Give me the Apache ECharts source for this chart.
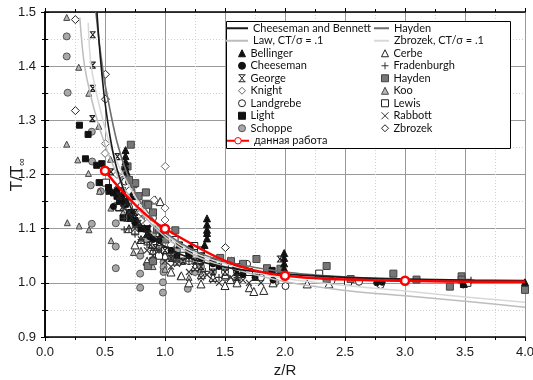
<!DOCTYPE html>
<html>
<head>
<meta charset="utf-8">
<script src="https://cdn.jsdelivr.net/npm/echarts@6/dist/echarts.min.js"></script>
<style>
  html, body { margin: 0; padding: 0; background: #fff; }
  #chart { width: 533px; height: 380px; }
</style>
</head>
<body>
<div id="chart"></div>
<script>
// Ground-effect thrust ratio T/T∞ against rotor height z/R

// Theory curves: [z/R, T/T∞]
const cheesemanBennett = [[0.433,1.5],[0.45,1.446],[0.47,1.395],[0.5,1.333],[0.55,1.26],[0.6,1.21],[0.7,1.146],[0.8,1.108],[0.9,1.084],[1.0,1.067],[1.25,1.042],[1.5,1.029],[1.75,1.021],[2.0,1.016],[2.5,1.010],[3.0,1.007],[3.5,1.005],[4.0,1.004]];
const haydenCurve = [[0.424,1.5],[0.45,1.447],[0.478,1.4],[0.5,1.367],[0.6,1.26],[0.7,1.192],[0.8,1.148],[1.0,1.094],[1.25,1.059],[1.5,1.040],[2.0,1.020],[2.5,1.011],[3.0,1.006],[3.5,1.003],[4.0,1.001]];
const lawCurve = [[0.29,1.49],[0.33,1.40],[0.41,1.32],[0.5,1.255],[0.6,1.2],[0.7,1.16],[0.8,1.13],[1.0,1.085],[1.25,1.05],[1.5,1.03],[1.75,1.015],[2.0,1.002],[2.5,0.986],[3.0,0.976],[3.5,0.966],[4.0,0.955]];
const zbrozekCurve = [[0.36,1.48],[0.385,1.40],[0.46,1.32],[0.55,1.25],[0.65,1.2],[0.75,1.16],[0.85,1.125],[1.0,1.09],[1.25,1.055],[1.5,1.035],[1.75,1.02],[2.0,1.008],[2.5,0.995],[3.0,0.985],[3.5,0.974],[4.0,0.964]];

// Present work
const ourX = [0.5, 1.0, 2.0, 3.0, 4.0];
const ourY = [1.207, 1.100, 1.013, 1.004, 1.002];

// Experimental data: [z/R, T/T∞]
const bellinger = [[0.671,1.245],[0.671,1.234],[0.671,1.224],[0.668,1.215],[0.68,1.205],[0.72,1.16],[0.85,1.09],[1.35,1.119],[1.35,1.108],[1.35,1.098],[1.35,1.092],[1.35,1.082],[1.33,1.07],[1.993,1.055],[1.993,1.046],[1.993,1.036],[1.993,1.027],[1.6,1.02],[4.0,1.001],[3.49,0.998]];
const cheeseman = [[0.57,1.141],[0.654,1.144],[0.64,1.159],[0.7,1.13],[0.72,1.12],[0.871,1.085],[0.95,1.078],[0.974,1.09],[1.05,1.06],[1.21,1.064],[1.3,1.045],[1.45,1.03],[1.587,1.027],[1.65,1.015],[1.75,1.01],[1.9,1.005],[2.764,1.0],[2.81,1.001],[3.485,0.996],[0.6,1.17],[0.66,1.15],[0.75,1.11],[0.8,1.1],[0.9,1.08],[1.1,1.05],[1.2,1.05],[1.4,1.035]];
const george = [[0.398,1.458],[0.398,1.402],[0.398,1.359],[0.395,1.303],[0.604,1.233],[0.55,1.205],[0.65,1.17],[0.75,1.13],[0.85,1.09],[0.95,1.08],[1.0,1.06],[1.1,1.05],[1.25,1.04],[1.5,1.02],[1.75,1.01],[1.957,1.044],[0.62,1.16],[0.68,1.15],[0.72,1.12],[0.78,1.11],[0.88,1.07],[0.92,1.065],[1.05,1.045],[1.15,1.04],[1.3,1.03],[1.4,1.02],[1.6,1.01]];
const knight = [[0.504,1.257],[0.501,1.239],[1.002,1.215],[0.91,1.153],[1.0,1.138],[1.0,1.116],[0.6,1.2],[0.65,1.17],[0.85,1.11],[1.1,1.07],[0.62,1.16],[0.72,1.13],[0.8,1.115],[0.9,1.1],[1.05,1.07],[1.25,1.045],[1.4,1.04]];
const landgrebe = [[0.668,1.187],[0.72,1.17],[0.8,1.14],[0.9,1.12],[1.0,1.09],[1.1,1.07],[1.3,1.04],[1.5,1.02],[1.684,1.035],[1.8,1.01],[2.004,0.994],[2.388,1.004],[2.617,1.002],[2.797,0.996],[0.6,1.17],[0.7,1.14],[0.78,1.12],[0.85,1.1],[0.95,1.075],[1.05,1.06],[1.2,1.04],[1.4,1.03],[1.6,1.02]];
const light = [[0.287,1.291],[0.359,1.274],[0.337,1.229],[0.431,1.217],[0.473,1.22],[0.451,1.185],[0.529,1.176],[0.534,1.169],[0.571,1.166],[0.65,1.12],[0.71,1.119],[0.75,1.115],[0.8,1.1],[1.12,1.07],[1.2,1.055],[1.3,1.05],[1.893,1.023],[0.6,1.16],[0.62,1.15],[0.67,1.145],[0.72,1.13],[0.85,1.1],[1.0,1.09],[1.4,1.04],[1.6,1.03]];
const schoppe = [[0.181,1.455],[0.181,1.418],[0.189,1.351],[0.39,1.279],[0.393,1.224],[0.381,1.18],[0.465,1.169],[0.39,1.109],[0.59,1.11],[0.59,1.067],[0.59,1.027],[0.59,1.142],[0.793,1.05],[0.793,1.017],[0.793,0.991],[0.988,1.038],[0.988,1.029],[0.988,1.02],[0.983,1.001],[0.983,0.982],[1.19,0.989],[0.7,1.15],[0.8,1.12],[0.9,1.09],[1.1,1.06],[1.3,1.03],[1.4,1.02],[1.92,1.001],[0.65,1.19],[0.62,1.17],[0.68,1.14],[0.72,1.13],[0.76,1.1],[0.85,1.08],[0.95,1.065],[1.05,1.05],[1.15,1.04],[1.25,1.02],[1.5,1.01],[1.6,1.005]];
const cerbe = [[0.918,1.153],[0.96,1.15],[1.136,1.013],[1.303,1.015],[1.503,1.015],[1.545,1.006],[1.703,0.991],[1.74,0.984],[1.823,0.986],[2.185,0.998],[2.366,0.998],[0.8,1.08],[0.9,1.06],[1.0,1.05],[1.1,1.04],[1.25,1.03],[1.4,1.01],[1.6,1.0],[0.7,1.1],[1.9,1.0],[0.62,1.14],[0.75,1.07],[0.85,1.04],[1.05,1.02],[1.2,1.0],[1.5,0.995],[1.3,0.998]];
const fradenburgh = [[0.66,1.119],[0.66,1.098],[0.75,1.09],[0.85,1.07],[0.95,1.06],[1.05,1.05],[1.07,1.042],[1.2,1.04],[1.336,1.021],[1.45,1.01],[3.55,1.005],[0.7,1.1],[0.8,1.08],[0.9,1.06],[1.1,1.04],[1.3,1.02],[1.6,1.01]];
const haydenData = [[0.715,1.255],[0.688,1.215],[0.738,1.182],[0.668,1.209],[0.752,1.184],[0.841,1.167],[0.841,1.146],[0.86,1.144],[0.933,1.098],[1.086,1.097],[0.857,1.031],[1.46,1.046],[1.55,1.04],[1.65,1.035],[1.762,1.044],[1.85,1.027],[1.962,1.026],[2.347,1.031],[2.347,1.006],[2.547,1.007],[2.903,1.017],[3.096,1.006],[3.374,0.993],[3.472,1.012],[3.472,1.006],[4.0,0.987],[0.7,1.19],[0.78,1.16],[0.9,1.13],[0.95,1.1],[1.0,1.08],[1.2,1.06],[0.9,1.04]];
const koo = [[0.181,1.49],[0.281,1.398],[0.365,1.35],[0.448,1.289],[0.181,1.256],[0.273,1.227],[0.546,1.228],[0.362,1.202],[0.454,1.169],[0.186,1.111],[0.284,1.105],[0.367,1.098],[0.549,1.138],[0.551,1.078],[0.737,1.056],[0.908,1.042],[1.127,1.012],[0.6,1.16],[0.65,1.13],[0.7,1.12],[0.8,1.06],[0.9,1.03],[1.0,1.025],[1.2,1.01]];
const lewis = [[0.509,1.185],[0.752,1.095],[0.85,1.1],[0.9,1.07],[0.95,1.05],[1.08,1.079],[1.15,1.05],[1.244,1.068],[1.3,1.06],[1.5,1.03],[2.285,1.017],[2.525,1.002],[3.52,1.0],[0.62,1.14],[0.7,1.12],[0.8,1.11],[1.0,1.06],[1.4,1.03],[1.7,1.02]];
const rabbott = [[0.65,1.14],[0.7,1.13],[0.8,1.08],[0.85,1.06],[0.9,1.05],[1.0,1.04],[1.1,1.035],[1.2,1.02],[1.3,1.01],[1.4,1.005],[1.55,1.01],[1.65,1.005],[1.8,1.0],[0.6,1.18],[0.75,1.1],[0.95,1.06],[1.05,1.03],[1.25,1.025],[1.35,1.015],[1.45,1.0],[1.7,1.0]];
const zbrozekData = [[0.253,1.486],[0.253,1.318],[0.504,1.385],[0.504,1.339],[0.7,1.17],[0.8,1.13],[1.0,1.1],[0.95,1.08],[1.2,1.05],[1.503,1.065]];

// Tick labels
const xTicks = ['0.0','0.5','1.0','1.5','2.0','2.5','3.0','3.5','4.0'];
const yTicks = ['0.9','1.0','1.1','1.2','1.3','1.4','1.5'];

const crossPath = 'path://M0,0L10,10M10,0L0,10';
const georgePath = 'path://M0,0L10,0M0,10L10,10M1,0L9,10M9,0L1,10';
const plusPath = 'path://M5,0L5,10M0,5L10,5';

function scatter(name, data, symbol, size, fill, stroke, bw) {
  return {
    name: name, type: 'scatter', data: data, symbol: symbol, symbolSize: size,
    itemStyle: { color: fill, borderColor: stroke, borderWidth: bw, opacity: 1 },
    emphasis: { disabled: true }, z: 2, silent: true
  };
}
function curve(name, data, color, width) {
  return {
    name: name, type: 'line', data: data, symbol: 'none', smooth: 0.3,
    lineStyle: { color: color, width: width }, itemStyle: { color: color },
    z: 3, silent: true
  };
}

const series = [
  scatter('Schoppe', schoppe, 'circle', 7, '#a8a8a8', '#555', 1),
  scatter('Koo', koo, 'triangle', 6, '#b8b8b8', '#444', 1),
  scatter('Cerbe', cerbe, 'triangle', 8, '#ffffff', '#222', 1),
  scatter('Landgrebe', landgrebe, 'circle', 7, '#ffffff', '#222', 1),
  scatter('Lewis', lewis, 'rect', 7, '#ffffff', '#222', 1),
  scatter('Knight', knight, 'diamond', 8, '#ffffff', '#666', 1),
  scatter('Zbrozek', zbrozekData, 'diamond', 8, '#ffffff', '#222', 1),
  scatter('Hayden ', haydenData, 'rect', 7, '#777777', '#444', 1),
  scatter('Light', light, 'rect', 6, '#111111', '#111', 1),
  scatter('Cheeseman', cheeseman, 'circle', 6, '#111111', '#111', 1),
  scatter('Bellinger', bellinger, 'triangle', 7, '#111111', '#111', 1),
  scatter('George', george, georgePath, 6, 'transparent', '#222', 1.2),
  scatter('Rabbott', rabbott, crossPath, 6, 'transparent', '#333', 1.2),
  scatter('Fradenburgh', fradenburgh, plusPath, 7, 'transparent', '#333', 1.2),
  curve('Zbrozek, CT/σ = .1', zbrozekCurve, '#d8d8d8', 1.5),
  curve('Law, CT/σ = .1', lawCurve, '#bdbdbd', 1.5),
  curve('Hayden', haydenCurve, '#6f6f6f', 1.6),
  curve('Cheeseman and Bennett', cheesemanBennett, '#1a1a1a', 1.6),
  {
    name: 'данная работа', type: 'line', smooth: 0.4, z: 6, silent: true,
    data: ourX.map((x, i) => i === ourX.length - 1
      ? { value: [x, ourY[i]], symbol: 'none' }
      : [x, ourY[i]]),
    symbol: 'circle', symbolSize: 8,
    lineStyle: { color: '#ff0000', width: 2.5 },
    itemStyle: { color: '#ffffff', borderColor: '#ff0000', borderWidth: 2.5 }
  }
];

const axisFont = { fontFamily: 'Liberation Sans', fontSize: 13, color: '#1a1a1a' };
const lineBlack = { show: true, lineStyle: { color: '#000', width: 1.5 } };
const legendText = { fontFamily: 'Lato', fontSize: 11, color: '#111', lineHeight: 12.5 };
const ROW = 12.5;
const LEG_TOP = 22;

// Legend blocks: line keys with a long bar, marker keys with a square icon
function legendBlock(left, row, width, height, names, extra) {
  return Object.assign({
    orient: 'vertical', left: left, top: LEG_TOP + row * ROW, padding: 0, itemGap: 0,
    itemWidth: width, itemHeight: height, selectedMode: false, z: 10,
    itemStyle: { borderWidth: 1 }, textStyle: legendText, data: names
  }, extra || {});
}

const option = {
  animation: false,
  backgroundColor: '#fff',
  grid: { left: 45, right: 8, top: 12, bottom: 43, outerBoundsMode: 'none', containLabel: false },
  xAxis: [
    {
      type: 'value', position: 'bottom', min: 0, max: 4, interval: 0.5,
      axisLine: lineBlack,
      axisTick: { show: true, inside: false, length: 4, lineStyle: { color: '#000' } },
      minorTick: { show: true, splitNumber: 2, length: 3, lineStyle: { color: '#000' } },
      splitLine: { show: true, lineStyle: { color: '#9a9a9a', width: 1 } },
      minorSplitLine: { show: true, lineStyle: { color: '#cfcfcf', width: 1, type: [1, 2] } },
      axisLabel: Object.assign({ margin: 9, formatter: (v) => xTicks[Math.round(v * 2)] }, axisFont),
      name: 'z/R', nameLocation: 'middle', nameGap: 26, nameMoveOverlap: false,
      nameTextStyle: { fontFamily: 'Liberation Sans', fontSize: 15, color: '#1a1a1a' }
    },
    {
      type: 'value', position: 'top', min: 0, max: 4, interval: 0.5,
      axisLine: lineBlack,
      axisTick: { show: true, inside: false, length: 4, lineStyle: { color: '#000' } },
      minorTick: { show: true, splitNumber: 2, length: 3, lineStyle: { color: '#000' } },
      splitLine: { show: false }, axisLabel: { show: false }
    }
  ],
  yAxis: [
    {
      type: 'value', position: 'left', min: 0.9, max: 1.5, interval: 0.1,
      axisLine: lineBlack,
      axisTick: { show: true, inside: false, length: 4, lineStyle: { color: '#000' } },
      minorTick: { show: true, splitNumber: 2, length: 3, lineStyle: { color: '#000' } },
      splitLine: { show: true, lineStyle: { color: '#9a9a9a', width: 1 } },
      minorSplitLine: { show: true, lineStyle: { color: '#cfcfcf', width: 1, type: [1, 2] } },
      axisLabel: Object.assign({ margin: 9, formatter: (v) => yTicks[Math.round((v - 0.9) * 10)] }, axisFont),
      name: '{t|T/T}{s|∞}', nameLocation: 'middle', nameGap: 18, nameMoveOverlap: false,
      nameTextStyle: {
        rich: {
          t: { fontFamily: 'Liberation Sans', fontSize: 17, color: '#1a1a1a' },
          s: { fontFamily: 'Liberation Sans', fontSize: 11, color: '#1a1a1a', padding: [8, 0, 0, 0] }
        }
      }
    },
    {
      type: 'value', position: 'right', min: 0.9, max: 1.5, interval: 0.1,
      axisLine: lineBlack,
      axisTick: { show: true, inside: false, length: 4, lineStyle: { color: '#000' } },
      minorTick: { show: true, splitNumber: 2, length: 3, lineStyle: { color: '#000' } },
      splitLine: { show: false }, axisLabel: { show: false }
    }
  ],
  graphic: [{
    type: 'rect', z: 9, silent: true,
    shape: { x: 226.5, y: 21.5, width: 284, height: 127 },
    style: { fill: '#fff', stroke: '#000', lineWidth: 1 }
  }],
  legend: [
    legendBlock(226, 0, 22, 2, ['Cheeseman and Bennett', 'Law, CT/σ = .1'], { icon: 'rect' }),
    legendBlock(238, 2, 7, 7, ['Bellinger', 'Cheeseman', 'George', 'Knight', 'Landgrebe', 'Light', 'Schoppe']),
    legendBlock(226, 9, 22, 8, ['данная работа']),
    legendBlock(374, 0, 15, 2, ['Hayden', 'Zbrozek, CT/σ = .1'], { icon: 'rect' }),
    legendBlock(381, 2, 7, 7, ['Cerbe', 'Fradenburgh', 'Hayden ', 'Koo', 'Lewis', 'Rabbott', 'Zbrozek'])
  ],
  series: series
};

const chart = echarts.init(document.getElementById('chart'), null, { renderer: 'canvas' });
chart.setOption(option);
</script>
</body>
</html>
